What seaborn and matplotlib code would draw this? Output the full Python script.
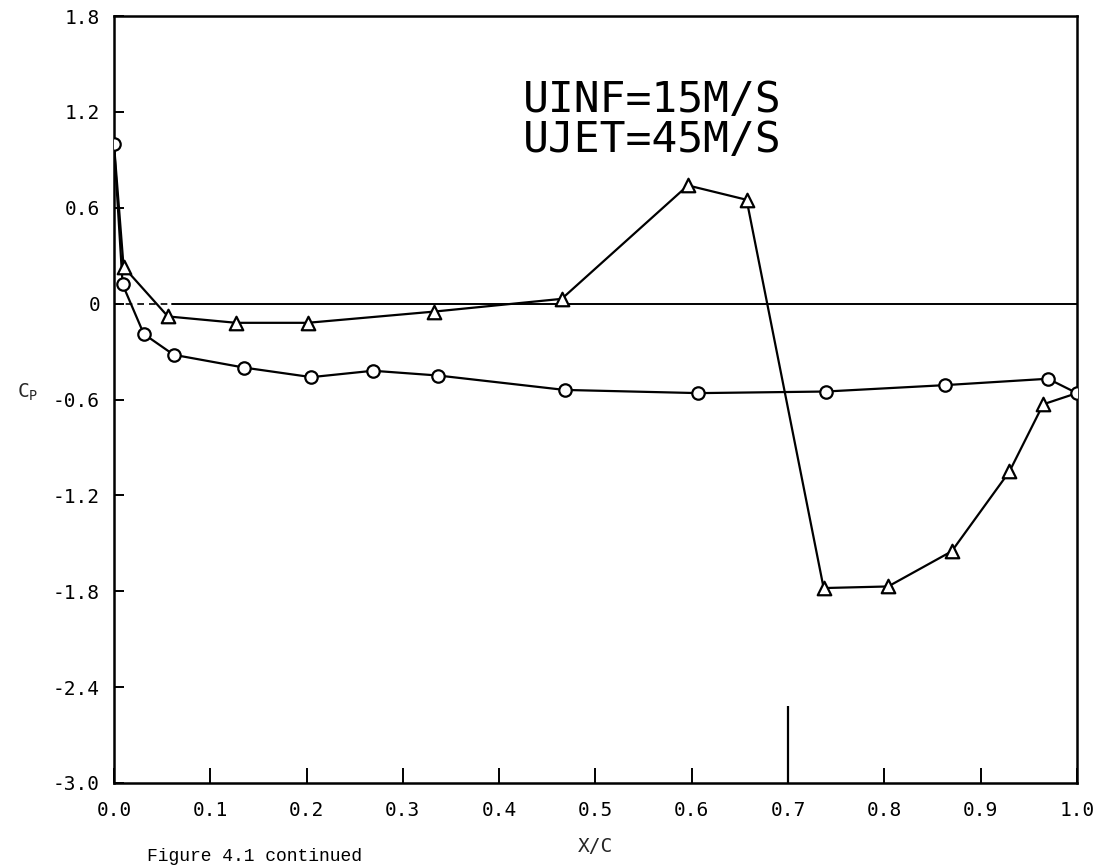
import matplotlib
matplotlib.use("Agg")
import matplotlib.pyplot as plt
import seaborn as sns
import pandas as pd

# ---- data ----
circle_x = [0.0, 0.009, 0.031, 0.062, 0.135, 0.205, 0.269, 0.337, 0.468, 0.607, 0.739, 0.863, 0.970, 1.0]
circle_y = [1.0, 0.12, -0.19, -0.32, -0.40, -0.46, -0.42, -0.45, -0.54, -0.56, -0.55, -0.51, -0.47, -0.56]

tri_x = [0.010, 0.056, 0.127, 0.201, 0.332, 0.465, 0.596, 0.657, 0.737, 0.804, 0.870, 0.930, 0.965]
tri_y = [0.23, -0.08, -0.12, -0.12, -0.05, 0.03, 0.74, 0.65, -1.78, -1.77, -1.55, -1.05, -0.63]

# the triangle curve starts and ends at the shared circle points (leading / trailing edge)
tri_line_x = [circle_x[0]] + tri_x + [circle_x[-1]]
tri_line_y = [circle_y[0]] + tri_y + [circle_y[-1]]

x_ticks = [0.0, 0.1, 0.2, 0.3, 0.4, 0.5, 0.6, 0.7, 0.8, 0.9, 1.0]
x_tick_labels = ["0.0", "0.1", "0.2", "0.3", "0.4", "0.5", "0.6", "0.7", "0.8", "0.9", "1.0"]
y_ticks = [1.8, 1.2, 0.6, 0.0, -0.6, -1.2, -1.8, -2.4, -3.0]
y_tick_labels = ["1.8", "1.2", "0.6", "0", "-0.6", "-1.2", "-1.8", "-2.4", "-3.0"]

zero_dash_x = [0.0, 0.06]
zero_solid_x = [0.06, 1.0]
marker_line_x = 0.7
marker_line_y = [-3.0, -2.52]

annotation = "UINF=15M/S\nUJET=45M/S"
caption = "Figure 4.1 continued"

# ---- plotting ----
sns.set_style("white")
plt.rcParams["font.family"] = ["DejaVu Sans Mono", "DejaVu Sans"]

fig = plt.figure(figsize=(11, 8.67), dpi=100)
ax = fig.add_axes([0.1036, 0.0969, 0.9790 - 0.1036, 0.9815 - 0.0969])

df_c = pd.DataFrame({"x": circle_x, "y": circle_y})
df_tl = pd.DataFrame({"x": tri_line_x, "y": tri_line_y})
df_t = pd.DataFrame({"x": tri_x, "y": tri_y})

sns.lineplot(data=df_c, x="x", y="y", sort=False, color="black", lw=1.6, ax=ax, zorder=3)
sns.lineplot(data=df_tl, x="x", y="y", sort=False, color="black", lw=1.6, ax=ax, zorder=3)
sns.scatterplot(data=df_c, x="x", y="y", marker="o", s=80, facecolor="white",
                edgecolor="black", linewidth=1.6, ax=ax, zorder=4)
sns.scatterplot(data=df_t, x="x", y="y", marker="^", s=95, facecolor="white",
                edgecolor="black", linewidth=1.6, ax=ax, zorder=4)

# zero reference line (dashed near leading edge, solid elsewhere)
ax.plot(zero_dash_x, [0, 0], color="black", lw=1.2, ls=(0, (4, 3)), zorder=2)
ax.plot(zero_solid_x, [0, 0], color="black", lw=1.4, zorder=2)
ax.vlines(marker_line_x, marker_line_y[0], marker_line_y[1], color="black", lw=1.6, zorder=2)

ax.set_xlim(0.0, 1.0)
ax.set_ylim(-3.0, 1.8)
ax.set_xticks(x_ticks)
ax.set_xticklabels(x_tick_labels)
ax.set_yticks(y_ticks)
ax.set_yticklabels(y_tick_labels)
ax.tick_params(axis="x", direction="in", length=11, width=1.4, pad=13,
               labelsize=14, colors="black", bottom=True, top=False)
ax.tick_params(axis="y", direction="in", length=7, width=1.4, pad=10,
               labelsize=14, colors="black", left=True, right=False)
for sp in ax.spines.values():
    sp.set_visible(True)
    sp.set_color("black")
    sp.set_linewidth(1.8)

ax.set_xlabel("X/C", fontsize=14, labelpad=12)
ax.set_ylabel("")
fig.text(28 / 1100, 1 - 392 / 867, r"C$_\mathregular{P}$", fontsize=14, ha="center", va="center")

ax.text(0.425, 0.864, annotation, transform=ax.transAxes, fontsize=31,
        ha="left", va="center", linespacing=0.93, color="black")

fig.text(147 / 1100, 2 / 867, caption, fontsize=13, family="Liberation Mono",
         ha="left", va="bottom", color="black")

fig.savefig("out.png", dpi=100, facecolor="white")
